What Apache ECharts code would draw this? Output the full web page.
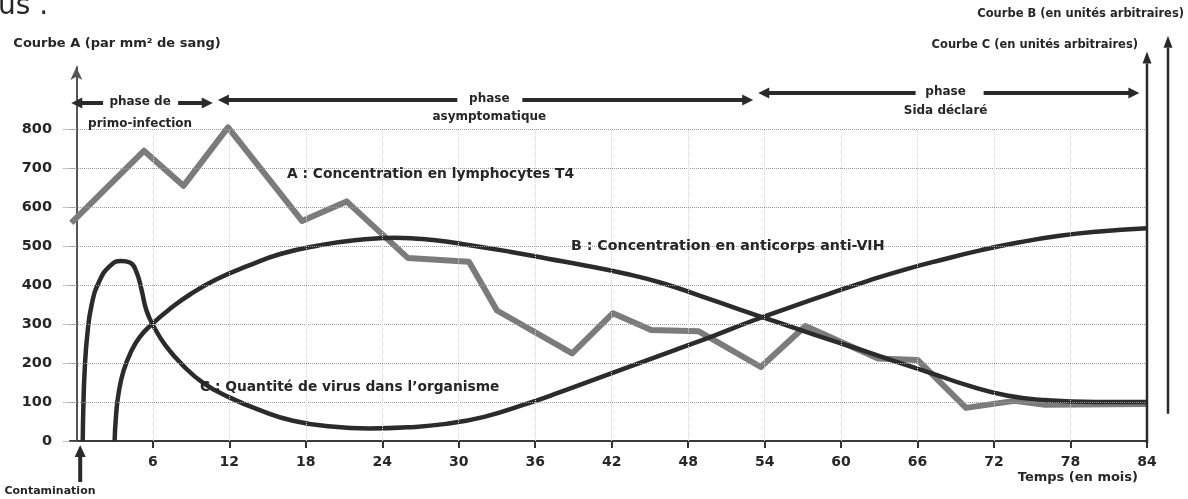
<!DOCTYPE html>
<html><head><meta charset="utf-8">
<script src="https://cdn.jsdelivr.net/npm/echarts@6/dist/echarts.min.js"></script>
<style>html,body{margin:0;padding:0;background:#fff}#c{width:1188px;height:499px}</style>
</head><body><div id="c"></div>
<script>
// ---- data ----
const xTicks = [6, 12, 18, 24, 30, 36, 42, 48, 54, 60, 66, 72, 78, 84];
const yTicks = [0, 100, 200, 300, 400, 500, 600, 700, 800];
// A : concentration en lymphocytes T4 (par mm3)
const curveA = [[-0.4,560],[5.3,745],[8.4,655],[11.9,805],[17.7,565],[21.2,615],[26,470],[30.8,460],[33,335],[38.9,225],[42.1,328],[45.1,285],[48.8,282],[53.7,190],[57.2,295],[62.9,212],[66,208],[69.8,85],[73.6,103],[76,93],[84,95]];
// B : concentration en anticorps anti-VIH (unités arbitraires)
const curveB = [[3.0,0],[3.1,60],[3.3,120],[3.7,180],[4.3,230],[5.0,268],[6.0,302],[7.3,338],[9.0,378],[11,415],[13.5,450],[16,480],[19,502],[22,516],[25,522],[28,516],[31,502],[34,486],[37,468],[40,450],[43,430],[46,405],[49,372],[52,338],[55,305],[58,272],[61,240],[64,207],[67,175],[70,142],[73,117],[76,105],[80,100],[84,100]];
// C : quantité de virus dans l'organisme (unités arbitraires)
const curveC = [[0.5,0],[0.55,90],[0.65,180],[0.85,270],[1.2,350],[1.8,410],[2.6,448],[3.5,462],[4.2,458],[4.7,435],[5.1,390],[5.5,335],[6.1,292],[7.0,245],[8.3,196],[10,148],[12,112],[14.5,78],[17,52],[20,37],[23,32],[26,35],[29,44],[32,62],[35,92],[38,126],[41,162],[44,198],[47,234],[50,270],[53,308],[56,343],[59,377],[62,410],[65,440],[68,466],[71,490],[74,510],[77,526],[80,537],[84,546]];
// phases (months)
const phases = [
  {start:-0.4, end:10.7, title:'phase de', sub:'primo-infection', mid:5.0},
  {start:11.1, end:53.1, title:'phase', sub:'asymptomatique', mid:32.4},
  {start:53.5, end:83.4, title:'phase', sub:'Sida déclaré', mid:68.2}
];
const texts = {
  yTitle:'Courbe A (par mm² de sang)',
  bTitle:'Courbe B (en unités arbitraires)',
  cTitle:'Courbe C (en unités arbitraires)',
  xTitle:'Temps (en mois)',
  contamination:'Contamination',
  labelA:'A : Concentration en lymphocytes T4',
  labelB:'B : Concentration en anticorps anti-VIH',
  labelC:'C : Quantité de virus dans l’organisme',
  corner:'us .'
};
// ---- layout / style ----
const FONT = '"DejaVu Sans", "Open Sans", sans-serif';
const INK = '#262626';
const phaseLayout = [
  {y:103, gapL:37, gapR:38, subY:124},
  {y:100, gapL:32, gapR:33, subY:117},
  {y:93,  gapL:30, gapR:38, subY:111}
];

const chart = echarts.init(document.getElementById('c'), null, {renderer:'canvas'});
chart.setOption({
  animation:false,
  backgroundColor:'#ffffff',
  grid:{left:70, right:41, top:67, bottom:58, containLabel:false},
  xAxis:{
    type:'value', min:-0.5, max:84,
    axisLine:{show:true, lineStyle:{color:'#3a3a3a', width:2}},
    axisTick:{show:true, customValues:xTicks, length:7, lineStyle:{color:'#333', width:2}},
    axisLabel:{customValues:xTicks, color:INK, fontWeight:'bold', fontSize:14, fontFamily:FONT, margin:14},
    splitLine:{show:false}
  },
  yAxis:{
    type:'value', min:0, max:960,
    axisLine:{show:true, symbol:['none','arrow'], symbolSize:[9,13], lineStyle:{color:'#555', width:2}},
    axisTick:{show:true, customValues:yTicks, length:14, lineStyle:{color:'#888', type:'dotted', width:1}},
    axisLabel:{customValues:yTicks, color:INK, fontWeight:'bold', fontSize:14.5, fontFamily:FONT, margin:18},
    splitLine:{show:false}
  },
  series:[
    {type:'line', name:'grid', data:[], silent:true,
     markLine:{silent:true, symbol:'none', label:{show:false}, animation:false,
       lineStyle:{type:'dotted', color:'#9a9a9a', width:1},
       data: yTicks.filter(v=>v>0).map(v=>({yAxis:v})).concat(
         xTicks.filter(v=>v<84).map(v=>[{coord:[v,0], lineStyle:{color:'#d4d4d4', type:'dotted', width:1}},{coord:[v,800]}]))}
    },
    {type:'line', name:'A', data:curveA, showSymbol:false, smooth:false,
     lineStyle:{color:'#7b7b7b', width:6, join:'round'}, z:3},
    {type:'line', name:'B', data:curveB, showSymbol:false, smooth:0.5,
     lineStyle:{color:'#2b2b2b', width:4.5}, z:4},
    {type:'line', name:'C', data:curveC, showSymbol:false, smooth:0.5,
     lineStyle:{color:'#2b2b2b', width:4.5}, z:4}
  ]
});

// ---- annotations ----
const px = (x,y)=>chart.convertToPixel({xAxisIndex:0,yAxisIndex:0},[x,y]);
function arrowHead(x,y,dir,len,half,color){
  let pts;
  if(dir==='left') pts=[[x,y],[x+len,y-half],[x+len,y+half]];
  else if(dir==='right') pts=[[x,y],[x-len,y-half],[x-len,y+half]];
  else pts=[[x,y],[x-half,y+len],[x+half,y+len]];
  return {type:'polygon', shape:{points:pts}, style:{fill:color||'#2a2a2a'}, z:20};
}
function line(x1,y1,x2,y2,w,color){
  return {type:'line', shape:{x1,y1,x2,y2}, style:{stroke:color||'#2a2a2a', lineWidth:w}, z:20};
}
function text(t,x,y,size,align,weight){
  return {type:'text', z:25, style:{text:t, x, y, fill:INK, font:(weight||'bold')+' '+size+'px '+FONT, align:align||'center', verticalAlign:'middle'}};
}
const g = [];
phases.forEach((p,i)=>{
  const L = phaseLayout[i];
  const xs = px(p.start,0)[0], xe = px(p.end,0)[0], xm = px(p.mid,0)[0];
  g.push(line(xs+8, L.y, xm-L.gapL, L.y, 4));
  g.push(arrowHead(xs, L.y, 'left', 11, 5.5));
  g.push(line(xm+L.gapR, L.y, xe-8, L.y, 4));
  g.push(arrowHead(xe, L.y, 'right', 11, 5.5));
  g.push(text(p.title, xm, L.y-1, 12));
  g.push(text(p.sub, xm, L.subY, 12));
});
// right axes (C at month 84, B slightly to the right)
const c0 = px(84,0), cTop = px(84,1000);
g.push(line(c0[0], c0[1]+2, c0[0], cTop[1]+12, 2.5));
g.push(arrowHead(c0[0], cTop[1], 'up', 12, 4.5));
const bx = c0[0]+21;
g.push(line(bx, px(84,70)[1], bx, px(84,1040)[1]+12, 2.5));
g.push(arrowHead(bx, px(84,1040)[1], 'up', 12, 4.5));
// contamination arrow
const cx = px(0.3,0)[0];
g.push(line(cx, 482, cx, 455, 4));
g.push(arrowHead(cx, 445, 'up', 12, 5.5));
g.push(text(texts.contamination, 50, 491, 11));
// titles
g.push(text(texts.yTitle, 117, 44, 13));
g.push(text(texts.bTitle, 1184, 14, 11.5, 'right'));
g.push(text(texts.cTitle, 1138, 45, 11.5, 'right'));
g.push(text(texts.xTitle, 1138, 478, 13, 'right'));
g.push(text(texts.corner, -2, 7, 28, 'left', 'normal'));
// curve labels
g.push(text(texts.labelA, 287, 174, 13.8, 'left'));
g.push(text(texts.labelB, 571, 246, 14.2, 'left'));
g.push(text(texts.labelC, 200, 387, 13.8, 'left'));
chart.setOption({graphic:{elements:g}});
</script></body></html>
